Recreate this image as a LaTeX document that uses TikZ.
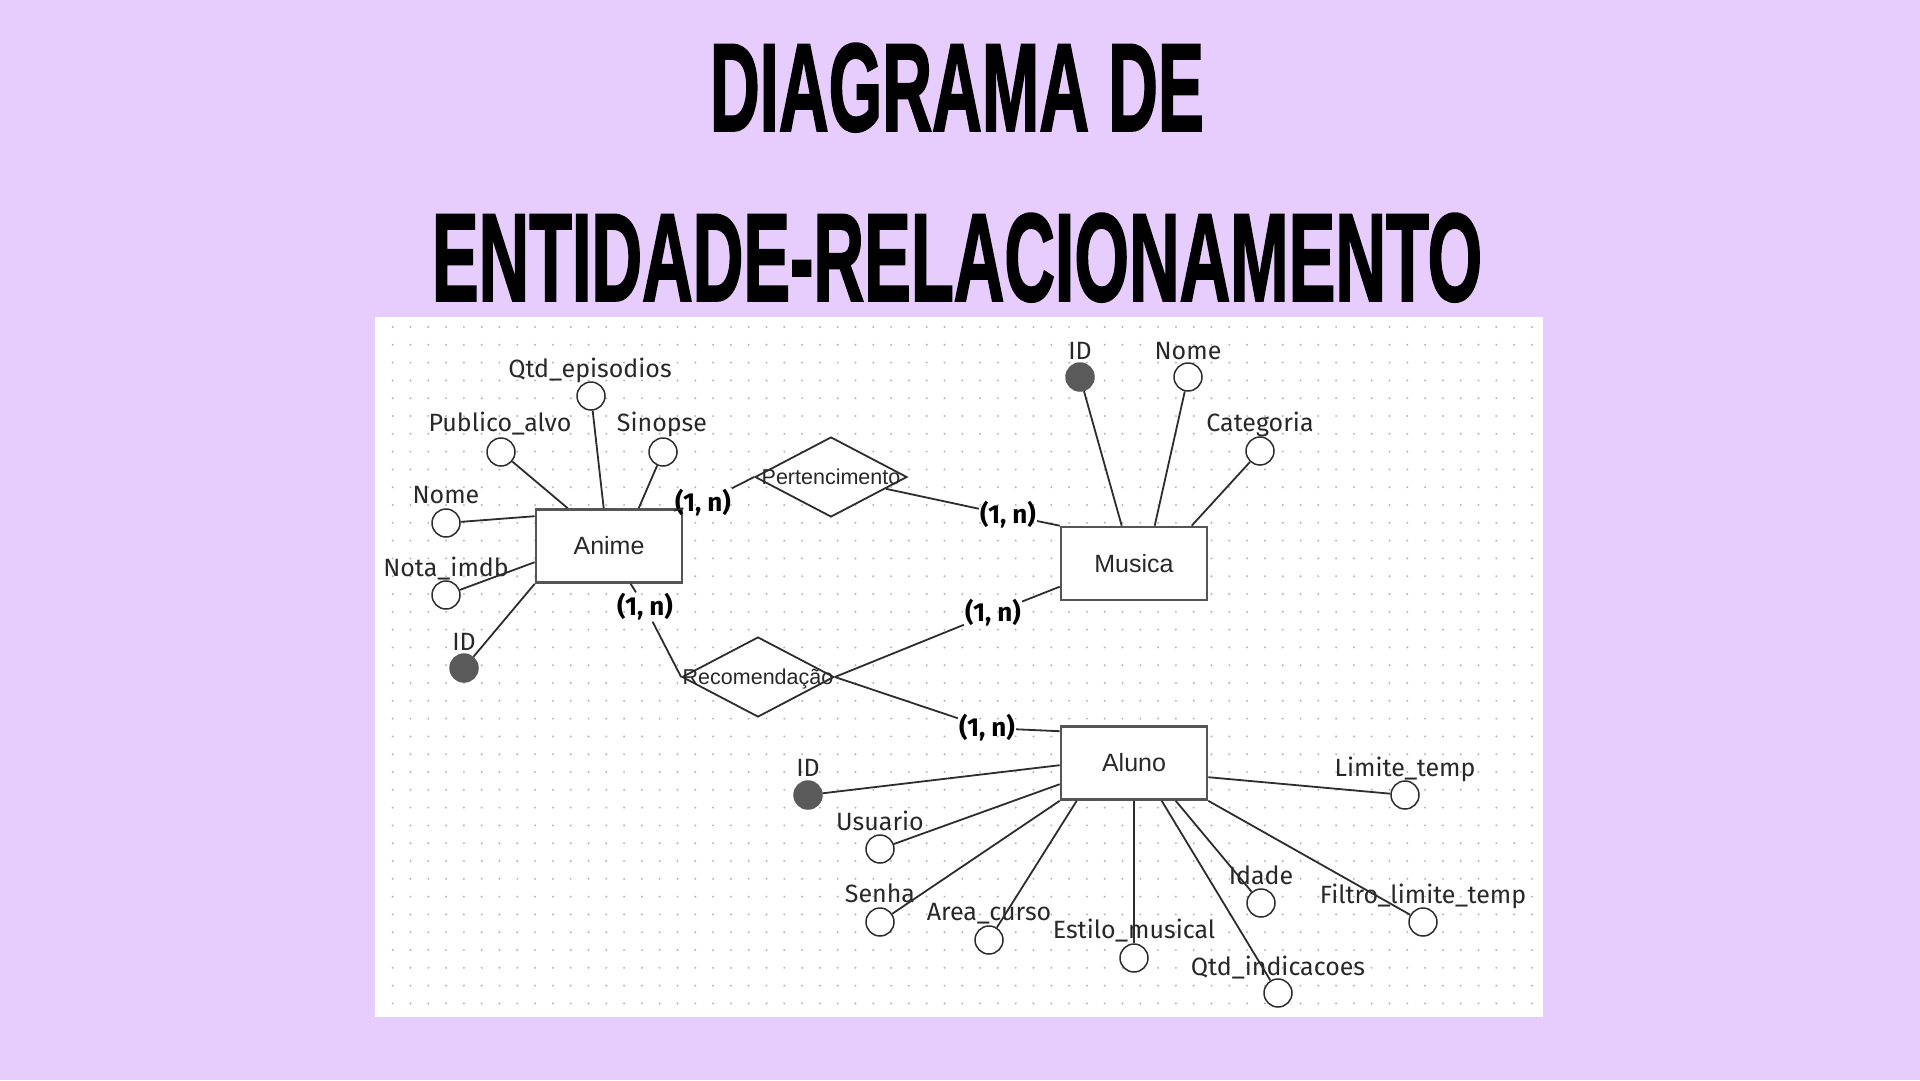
\documentclass[tikz,border=0pt]{standalone}
\usepackage{graphicx}
\usepackage{fontspec}
\setmainfont{Fira Sans}
\newfontfamily\arialf{Liberation Sans}
\newfontfamily\titlef{Liberation Sans}[FakeBold=2]
\usetikzlibrary{shapes.geometric,calc}
\definecolor{bgc}{RGB}{230,205,253}
\definecolor{dotc}{RGB}{180,180,180}
\definecolor{txt}{RGB}{40,40,40}
\definecolor{linec}{RGB}{45,45,45}
\definecolor{rectc}{RGB}{85,85,85}
\definecolor{keyc}{RGB}{90,90,90}
\tikzset{
  ent/.style={draw=rectc,line width=2.6pt,fill=white,minimum width=146pt,minimum height=73pt,inner sep=0pt,text=txt,font=\arialf\fontsize{25}{30}\selectfont},
  rel/.style={diamond,draw=linec,line width=1.8pt,fill=white,minimum width=152pt,minimum height=80pt,inner sep=0pt,text=txt,font=\arialf\fontsize{21.5}{26}\selectfont},
  attr/.style={circle,draw=linec,line width=1.5pt,fill=white,minimum size=28pt,inner sep=0pt},
  keyattr/.style={circle,draw=keyc,line width=1.5pt,fill=keyc,minimum size=28pt,inner sep=0pt},
  albl/.style={anchor=base,inner sep=0pt,text=txt,font=\fontsize{25}{29}\selectfont},
  card/.style={inner sep=1pt,text=black,font=\bfseries\fontsize{26}{30}\selectfont},
  conn/.style={draw=linec,line width=1.8pt},
}
\newcommand{\reltext}[1]{\makebox[0pt][c]{\smash{\raisebox{-7.5pt}{#1}}}}
\begin{document}
\begin{tikzpicture}[x=1pt,y=-1pt]
\fill[bgc] (0,0) rectangle (1920,1080);
\useasboundingbox (0,0) rectangle (1920,1080);
% title
\node[anchor=south,inner sep=0pt] (t1) at (957,132) {\resizebox{494pt}{87pt}{\titlef\bfseries DIAGRAMA DE}};
\node[anchor=south,inner sep=0pt] (t2) at (957,302) {\resizebox{1050pt}{87pt}{\titlef\bfseries ENTIDADE-RELACIONAMENTO}};
% panel
\fill[white] (375,317) rectangle (1543,1017);
\foreach \i in {0,...,64}{
  \foreach \j in {0,...,38}{
    \fill[dotc] (392.7+\i*17.8,327+\j*17.8) circle (1.1);
  }
}
% entities
\node[ent] (anime) at (609,546) {Anime};
\node[ent] (musica) at (1134,563.5) {Musica};
\node[ent] (aluno) at (1134,763) {Aluno};
% relationships
\node[rel] (pert) at (831,477) {\reltext{Pertencimento}};
\node[rel] (rec) at (758,677) {\reltext{Recomendação}};
% cardinalities
\node[card] (c1) at (703,503) {(1, n)};
\node[card] (c2) at (1008,515) {(1, n)};
\node[card] (c3) at (645,607) {(1, n)};
\node[card] (c4) at (993,613) {(1, n)};
\node[card] (c5) at (987,728) {(1, n)};
% relationship connectors
\draw[conn] (anime.north east) -- (c1) -- (pert.west);
\draw[conn] (pert) -- (c2) -- (musica.north west);
\draw[conn] ($(anime.south west)+(96,0)$) -- (c3) -- (rec.west);
\draw[conn] ($(musica.north west)+(0,61)$) -- (c4) -- (rec.east);
\draw[conn] (rec.east) -- (c5) -- ($(aluno.north west)+(0,6)$);
% Anime attributes
\node[attr] (a1) at (591,396) {};
\node[albl] (a1l) at (590,377.5) {Qtd\_episodios};
\node[attr] (a2) at (501,452) {};
\node[albl] (a2l) at (500,431.5) {Publico\_alvo};
\node[attr] (a3) at (663,452) {};
\node[albl] (a3l) at (662,431.5) {Sinopse};
\node[attr] (a4) at (446,523) {};
\node[albl] (a4l) at (446,503.5) {Nome};
\node[attr] (a5) at (446,595) {};
\node[albl] (a5l) at (446,576.5) {Nota\_imdb};
\node[keyattr] (a6) at (464,668) {};
\node[albl] (a6l) at (464,650.5) {ID};
\draw[conn] (a1) -- ($(anime.north west)+(69,0)$);
\draw[conn] (a2) -- ($(anime.north west)+(33,0)$);
\draw[conn] (a3) -- ($(anime.north west)+(104,0)$);
\draw[conn] (a4) -- ($(anime.north west)+(0,8)$);
\draw[conn] (a5) -- ($(anime.north west)+(0,54)$);
\draw[conn] (a6) -- (anime.south west);
% Musica attributes
\node[keyattr] (m1) at (1080,377) {};
\node[albl] (m1l) at (1080,359.5) {ID};
\node[attr] (m2) at (1188,377) {};
\node[albl] (m2l) at (1188,359.5) {Nome};
\node[attr] (m3) at (1260,451) {};
\node[albl] (m3l) at (1260,431.5) {Categoria};
\draw[conn] (m1) -- ($(musica.north west)+(62,0)$);
\draw[conn] (m2) -- ($(musica.north west)+(95,0)$);
\draw[conn] (m3) -- ($(musica.north west)+(132,0)$);
% Aluno attributes
\node[keyattr] (u1) at (808,795) {};
\node[albl] (u1l) at (808,776.5) {ID};
\node[attr] (u2) at (880,849) {};
\node[albl] (u2l) at (880,830.5) {Usuario};
\node[attr] (u3) at (880,922) {};
\node[albl] (u3l) at (880,902.5) {Senha};
\node[attr] (u4) at (989,940) {};
\node[albl] (u4l) at (989,920.5) {Area\_curso};
\node[attr] (u5) at (1134,958) {};
\node[albl] (u5l) at (1134,938.5) {Estilo\_musical};
\node[attr] (u6) at (1278,993) {};
\node[albl] (u6l) at (1278,975.5) {Qtd\_indicacoes};
\node[attr] (u7) at (1261,903) {};
\node[albl] (u7l) at (1261,884.5) {Idade};
\node[attr] (u8) at (1423,922) {};
\node[albl] (u8l) at (1423,903.5) {Filtro\_limite\_temp};
\node[attr] (u9) at (1405,795) {};
\node[albl] (u9l) at (1405,776.5) {Limite\_temp};
\draw[conn] (u1) -- ($(aluno.north west)+(0,40)$);
\draw[conn] (u2) -- ($(aluno.north west)+(0,59)$);
\draw[conn] (u3) -- (aluno.south west);
\draw[conn] (u4) -- ($(aluno.south west)+(17,0)$);
\draw[conn] (u5) -- (aluno.south);
\draw[conn] (u6) -- ($(aluno.south west)+(102,0)$);
\draw[conn] (u7) -- ($(aluno.south west)+(116,0)$);
\draw[conn] (u8) -- (aluno.south east);
\draw[conn] (u9) -- ($(aluno.north east)+(0,52)$);
\end{tikzpicture}
\end{document}
